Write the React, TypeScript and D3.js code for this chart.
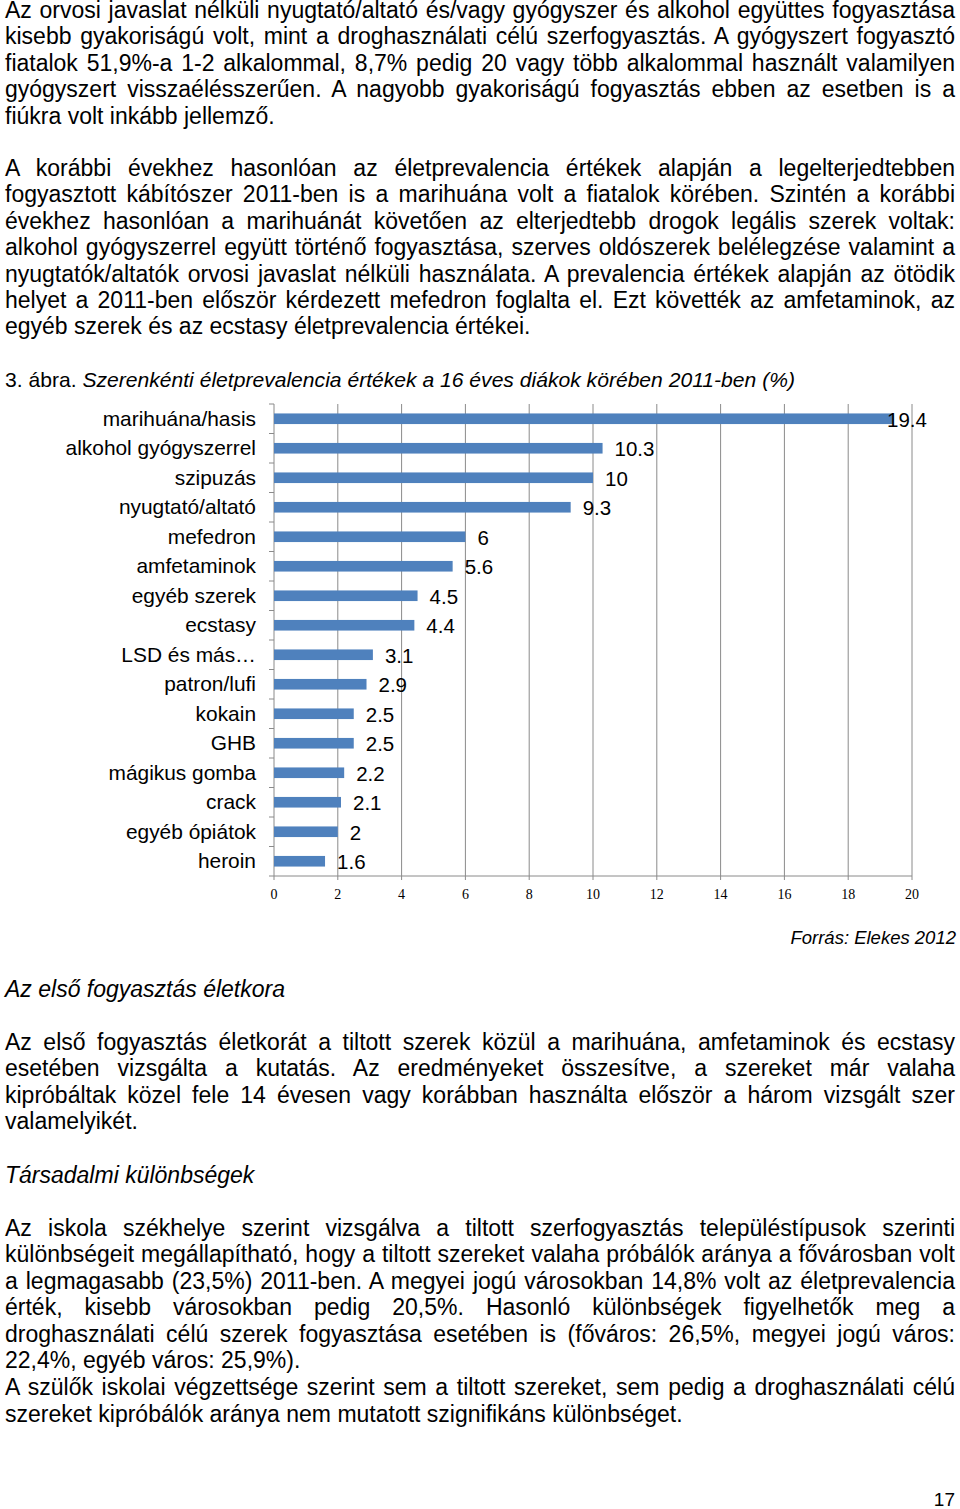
import React, { useLayoutEffect, useRef } from "react";
import * as d3 from "d3";

const categories = [
  "marihuána/hasis",
  "alkohol gyógyszerrel",
  "szipuzás",
  "nyugtató/altató",
  "mefedron",
  "amfetaminok",
  "egyéb szerek",
  "ecstasy",
  "LSD és más…",
  "patron/lufi",
  "kokain",
  "GHB",
  "mágikus gomba",
  "crack",
  "egyéb ópiátok",
  "heroin",
];
const values = [19.4, 10.3, 10, 9.3, 6, 5.6, 4.5, 4.4, 3.1, 2.9, 2.5, 2.5, 2.2, 2.1, 2, 1.6];
const xTicks = [0, 2, 4, 6, 8, 10, 12, 14, 16, 18, 20];

type Line = { t: string; j: boolean; y: number };

const para1 = [
  "Az orvosi javaslat nélküli nyugtató/altató és/vagy gyógyszer és alkohol együttes fogyasztása",
  "kisebb gyakoriságú volt, mint a droghasználati célú szerfogyasztás. A gyógyszert fogyasztó",
  "fiatalok 51,9%-a 1-2 alkalommal, 8,7% pedig 20 vagy több alkalommal használt valamilyen",
  "gyógyszert visszaélésszerűen. A nagyobb gyakoriságú fogyasztás ebben az esetben is a",
  "fiúkra volt inkább jellemző.",
];
const para2 = [
  "A korábbi évekhez hasonlóan az életprevalencia értékek alapján a legelterjedtebben",
  "fogyasztott kábítószer 2011-ben is a marihuána volt a fiatalok körében. Szintén a korábbi",
  "évekhez hasonlóan a marihuánát követően az elterjedtebb drogok legális szerek voltak:",
  "alkohol gyógyszerrel együtt történő fogyasztása, szerves oldószerek belélegzése valamint a",
  "nyugtatók/altatók orvosi javaslat nélküli használata. A prevalencia értékek alapján az ötödik",
  "helyet a 2011-ben először kérdezett mefedron foglalta el. Ezt követték az amfetaminok, az",
  "egyéb szerek és az ecstasy életprevalencia értékei.",
];
const para3 = [
  "Az első fogyasztás életkorát a tiltott szerek közül a marihuána, amfetaminok és ecstasy",
  "esetében vizsgálta a kutatás. Az eredményeket összesítve, a szereket már valaha",
  "kipróbáltak közel fele 14 évesen vagy korábban használta először a három vizsgált szer",
  "valamelyikét.",
];
const para4 = [
  "Az iskola székhelye szerint vizsgálva a tiltott szerfogyasztás településtípusok szerinti",
  "különbségeit megállapítható, hogy a tiltott szereket valaha próbálók aránya a fővárosban volt",
  "a legmagasabb (23,5%) 2011-ben. A megyei jogú városokban 14,8% volt az életprevalencia",
  "érték, kisebb városokban pedig 20,5%. Hasonló különbségek figyelhetők meg a",
  "droghasználati célú szerek fogyasztása esetében is (főváros: 26,5%, megyei jogú város:",
  "22,4%, egyéb város: 25,9%).",
];
const para5 = [
  "A szülők iskolai végzettsége szerint sem a tiltott szereket, sem pedig a droghasználati célú",
  "szereket kipróbálók aránya nem mutatott szignifikáns különbséget.",
];

function para(lines: string[], y0: number, step: number): Line[] {
  return lines.map((t, i) => ({ t, j: i < lines.length - 1, y: y0 + i * step }));
}

const LH = 26.4;
const bodyLines: Line[] = [
  ...para(para1, 10, LH),
  ...para(para2, 168, LH),
  ...para(para3, 1042, LH),
  ...para(para4, 1228, LH),
  ...para(para5, 1387, 26.8),
];

const FONT = "'Liberation Sans', Arial, sans-serif";
const LEFT = 5;
const RIGHT = 955;

export default function App() {
  const ref = useRef<SVGSVGElement>(null);

  useLayoutEffect(() => {
    if (!ref.current) return;
    d3.select(ref.current)
      .selectAll<SVGTextElement, unknown>("text.just")
      .each(function () {
        const w = this.getComputedTextLength();
        const spaces = (this.textContent || "").split(" ").length - 1;
        if (spaces > 0) this.setAttribute("word-spacing", String((RIGHT - LEFT - w) / spaces));
      });
  }, []);

  const x = d3.scaleLinear().domain([0, 20]).range([274, 912]);
  const y = d3.scaleBand<string>().domain(categories).range([404, 876]).paddingInner(0.64).paddingOuter(0.32);
  const step = y.step();
  const bounds = d3.range(categories.length + 1).map((i) => 404 + i * step);
  const grid = "#8a8a8a";

  return (
    <svg
      ref={ref}
      width={960}
      height={1509}
      style={{ position: "absolute", left: 0, top: 0, background: "#fff" }}
      fontFamily={FONT}
    >
      <rect width={960} height={1509} fill="#fff" />
      {bodyLines.map((l, i) => (
        <text key={i} className={l.j ? "just" : ""} x={LEFT} y={l.y + 8} fontSize={23} fill="#000">
          {l.t}
        </text>
      ))}
      <text x={LEFT} y={379 + 7.5} fontSize={21.1} fill="#000">
        3. ábra. <tspan fontStyle="italic">Szerenkénti életprevalencia értékek a 16 éves diákok körében 2011-ben (%)</tspan>
      </text>

      {/* chart */}
      <g>
        {xTicks.map((t) => (
          <line key={"g" + t} x1={x(t)} x2={x(t)} y1={404} y2={880} stroke={grid} strokeWidth={1} />
        ))}
        <line x1={x(0)} x2={x(20)} y1={876} y2={876} stroke={grid} strokeWidth={1} />
        {bounds.map((b, i) => (
          <line key={"t" + i} x1={269} x2={274} y1={b} y2={b} stroke={grid} strokeWidth={1} />
        ))}
        {categories.map((c, i) => (
          <rect key={c} x={x(0)} y={y(c)!} width={x(values[i]) - x(0)} height={y.bandwidth()} fill="#4F81BD" />
        ))}
        {categories.map((c) => (
          <text key={"c" + c} x={256} y={y(c)! + y.bandwidth() / 2 + 7} fontSize={20.9} textAnchor="end" fill="#000">
            {c}
          </text>
        ))}
        {categories.map((c, i) => (
          <text
            key={"v" + c}
            x={Math.min(x(values[i]) + 12, 887)}
            y={y(c)! + y.bandwidth() / 2 + 8}
            fontSize={20.5}
            fill="#000"
          >
            {String(values[i])}
          </text>
        ))}
        {xTicks.map((t) => (
          <text
            key={"x" + t}
            x={x(t)}
            y={899}
            fontSize={14}
            textAnchor="middle"
            fontFamily="'Liberation Serif', 'Times New Roman', serif"
            fill="#000"
          >
            {t}
          </text>
        ))}
      </g>

      <text x={956} y={938 + 6} fontSize={18.5} fontStyle="italic" textAnchor="end" fill="#000">
        Forrás: Elekes 2012
      </text>
      <text x={LEFT} y={989 + 8} fontSize={23} fontStyle="italic" fill="#000">
        Az első fogyasztás életkora
      </text>
      <text x={LEFT} y={1175 + 8} fontSize={23} fontStyle="italic" fill="#000">
        Társadalmi különbségek
      </text>
      <text x={955} y={1505.5} fontSize={19} textAnchor="end" fill="#000">
        17
      </text>
    </svg>
  );
}
